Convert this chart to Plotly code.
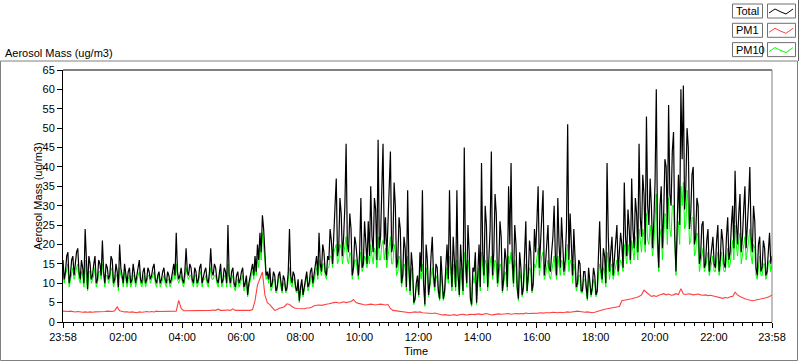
import plotly.graph_objects as go
import pandas as pd

# ---------------- data ----------------
# Total / PM10: values on the 5-minute grid (23:58 -> 23:58) ...
total = [
    16,13,18,12,17,15,19,11,14,24,8.5,15,
    12,17,11,15,21,10,14,12,16,11,13,20,
    12,15,10,14,11,13,12,16,10,14,11,13,
    12,15,10,13,11,14,10,12,11,15,23,11,
    14,10,19,12,14,10,13,11,15,12,14,10,
    19,12,14,10,15,11,13,25,10,14,9,13,
    11,14,10,7,12,15,17,20,23,27.5,19,13,
    14,10,12,9,13,8,11,9,24,10,12,8,
    5.5,11,9,13,10,14,12,17,23,13,18,12,
    16,21,25,37,19,28,22,46,18,24,14,20,
    12,32,15,20,26,35,18,29,47,22,46,27,
    25,44,20,30,16,24,12,19,34,8,14,6,
    12,18,34,4.5,16,10,22,9,14,6,12,8,
    20,34,9,16,34,7,14,45,10,18,4.5,13,
    5,20,41,12,25,15,44,18,28,14,22,11,
    16,35,41,10,20,6,14,9,26,12,18,10,
    18,35,20,34,15,25,13,22,17,32,14,21,
    16,51,28,12,18,10,15,8,13,6,11,9,
    12,8,26,11,17,41,13,22,16,25,18,20,
    36,17,24,37,19,28,46,22,33,53,25,30,
    26,60,14,35,28,40,56,30,49,13,38,60,
    61,35,45,28,40,22,30,17,26,15,24,16,
    22,14,25,16,21,14,27,18,30,39,20,33,
    22,35,24,40,18,26,12,22,14,19,13,23,17,
]
# ... and the samples in between (2.5 minutes later)
total_mid = [
    11,17,10,16,12,18,13,16,10,13,17,11,
    15,10,16,12,13,15,11,17,10,15,9,14,
    10,12,13,10,15,10,14,11,13,10,14,11,
    14,11,12,10,13,11,13,10,13,12,13,12,
    11,13,13,15,11,14,10,14,10,13,11,13,
    13,15,11,13,10,14,10,12,13,10,12,10,
    13,9,12,10,14,12,13,16,18,24,12,11,
    9,13,8,12,10,12,8,13,12,13,9,11,
    9,7,12,9,13,10,15,12,15,20,13,17,
    24,15,30,17,32,17,30,20,28,12,22,15,
    18,14,26,15,17,22,32,16,19,36,20,16,
    31,18,36,14,27,10,22,9,15,18,5,10,
    7,13,10,20,7,17,12,15,8,17,6,13,
    11,16,22,9,12,20,8,16,25,6,14,18,
    12,9,18,30,9,24,12,33,10,26,8,19,
    9,20,16,25,9,18,7,17,8,21,8,24,
    26,14,27,12,20,14,18,30,12,20,27,13,
    24,16,20,24,9,16,8,13,9,14,7,14,
    7,15,14,19,10,22,18,12,21,13,23,14,
    22,29,16,24,32,18,27,38,20,30,37,19,
    36,22,30,19,42,24,33,44,22,28,25,42,
    29,50,24,38,20,32,15,25,14,21,13,20,
    15,21,13,24,15,22,16,25,19,26,28,18,
    29,19,31,22,30,14,20,13,21,12,20,15,
]

pm10 = [
    14,12,15,11,14,12,15,10,12,16,8,13,
    11,14,10,13,15,9,12,11,13,10,12,14,
    11,13,9,12,10,12,11,13,9,12,10,12,
    11,13,9,12,10,12,9,11,10,13,15,10,
    12,9,14,11,12,9,12,10,13,11,12,9,
    14,11,12,9,13,10,12,15,9,12,8,11,
    10,12,9,6.5,11,13,15,17,19,23,16,12,
    12,9,11,8,12,7.5,10,8,14,9,11,7.5,
    5,10,8,12,9,12,11,14,16,12,15,11,
    14,17,18,20,16,19,17,22,15,17,13,16,
    11,18,14,16,17,20,15,18,22,16,21,19,
    17,22,15,18,13,16,11,14,17,7,12,5.5,
    10,13,15,4,12,9,14,8,11,5.5,10,7,
    14,17,8,12,16,6.5,11,18,9,13,4,10,
    4.5,14,18,10,15,12,17,13,15,11,14,10,
    12,17,18,9,14,5.5,11,8,15,10,13,9,
    14,19,15,18,12,16,11,15,13,17,12,15,
    13,20,16,10,13,9,12,7.5,11,5.5,10,8,
    10,7.5,15,10,13,18,11,15,13,16,14,15,
    20,15,18,21,16,19,24,18,22,28,20,21,
    20,33,13,24,21,27,32,22,30,12,26,35,
    36,25,30,21,27,18,22,15,19,14,18,14,
    17,13,18,14,16,13,19,15,21,25,17,23,
    17,22,18,24,15,19,11,17,12,15,12,16,15,
]
pm10_mid = [
    10,14,9,13,11,14,11,13,9,11,13,10,
    12,9,13,11,12,12,10,14,9,12,8,12,
    9,11,11,9,12,9,12,10,11,9,12,10,
    12,10,11,9,11,10,11,9,11,11,11,11,
    10,11,12,12,10,12,9,12,9,11,10,11,
    11,12,10,11,9,12,9,11,11,9,10,9,
    11,8,11,9,12,11,12,14,16,20,11,10,
    8,11,7.5,11,9,10,7.5,11,10,11,8,9,
    8,6.5,10,8,11,9,12,11,13,15,12,14,
    17,14,19,15,20,15,19,16,18,11,16,13,
    15,13,17,14,15,17,19,14,16,20,16,14,
    19,15,20,12,17,9,15,8,12,14,4.5,9,
    6.5,11,9,14,6.5,13,10,12,7,13,5.5,11,
    10,13,15,8,11,14,7,13,16,5.5,12,13,
    10,8,14,16,8,15,11,16,9,15,7.5,13,
    8,15,13,16,8,13,6.5,13,7.5,14,7.5,15,
    17,12,17,11,14,12,13,17,11,14,16,12,
    17,13,15,15,8,12,7.5,11,8,11,6.5,11,
    6.5,12,12,14,9,15,14,11,15,12,16,13,
    18,20,15,18,22,16,20,24,18,21,25,17,
    26,18,22,16,28,20,24,30,19,21,20,30,
    24,34,20,27,17,23,13,18,13,16,12,16,
    13,16,12,18,13,16,14,18,16,20,21,15,
    20,16,21,17,20,12,15,12,15,11,15,13,
]

# PM1 on the 5-minute grid
pm1 = [
    2.8,2.7,2.7,2.8,2.6,2.6,2.7,2.5,2.5,2.6,2.5,2.6,
    2.5,2.6,2.6,2.7,2.6,2.7,2.8,2.7,2.7,2.9,3.9,2.9,
    2.7,2.6,2.6,2.5,2.6,2.5,2.4,2.6,2.5,2.6,2.7,2.6,
    2.7,2.6,2.8,2.7,2.7,2.8,2.7,2.7,2.8,2.7,2.8,5.6,
    3.5,2.9,2.9,2.9,3.0,2.9,2.9,3.0,2.9,2.9,3.0,3.0,
    3.0,3.1,3.0,3.3,3.0,3.0,3.1,3.1,3.0,3.4,3.0,3.0,
    3.0,2.9,3.0,2.9,3.0,3.2,5.5,9.5,11.5,12.9,7.0,5.0,
    4.5,3.8,3.0,3.2,3.6,3.7,4.0,4.7,4.5,4.0,3.6,3.5,
    3.5,3.5,3.4,3.6,3.6,3.8,4.2,4.3,4.4,4.3,4.5,4.6,
    4.7,4.9,5.0,5.1,4.9,5.0,5.2,5.0,5.1,5.3,5.8,5.0,
    4.8,4.6,4.5,4.4,4.5,4.6,4.5,4.4,4.5,4.6,4.5,4.4,
    4.5,3.5,3.0,2.9,2.8,2.7,2.6,2.5,2.4,2.4,2.5,2.6,
    2.5,2.6,2.4,2.3,2.4,2.3,2.2,2.3,2.1,2.0,1.8,1.9,
    1.8,1.7,1.8,1.9,1.7,1.8,2.0,1.9,1.8,1.9,2.0,1.9,
    2.0,2.1,1.9,2.0,2.2,2.0,1.8,1.9,2.0,2.1,2.0,2.1,
    2.1,2.2,2.0,2.1,2.2,2.1,2.2,2.1,2.3,2.2,2.2,2.3,
    2.2,2.3,2.4,2.3,2.4,2.3,2.4,2.5,2.4,2.4,2.5,2.4,
    2.5,2.6,2.5,2.6,2.7,2.8,2.7,2.6,2.5,2.6,2.5,2.4,
    2.5,2.7,3.0,3.2,3.3,3.4,3.5,3.7,3.8,3.9,4.0,5.5,
    5.6,5.8,5.9,6.0,6.2,6.3,6.6,7.0,8.2,7.6,7.0,6.6,
    6.8,6.6,6.9,7.1,7.3,7.0,7.2,6.9,7.0,7.3,7.1,8.6,
    7.2,7.1,7.3,7.2,7.0,7.1,7.2,7.0,6.9,7.0,6.8,6.9,
    6.7,6.5,6.4,6.2,6.1,6.3,6.2,6.5,6.6,7.7,7.0,6.6,
    6.2,6.0,5.8,5.6,5.5,5.6,5.7,5.8,6.0,6.1,6.3,6.6,7.0,
]

tick_labels = ["23:58", "02:00", "04:00", "06:00", "08:00", "10:00", "12:00",
               "14:00", "16:00", "18:00", "20:00", "22:00", "23:58"]

start = pd.Timestamp("2024-01-01 23:58")
end = pd.Timestamp("2024-01-02 23:58")


def interleave(a, b):
    out = []
    for v, m in zip(a[:-1], b):
        out.extend([v, m])
    out.append(a[-1])
    return out


total_all = interleave(total, total_mid)
pm10_all = interleave(pm10, pm10_mid)
times_fine = pd.date_range(start, periods=len(total_all), freq="150s")
times_5 = pd.date_range(start, periods=len(pm1), freq="5min")

tick_vals = [start] + [pd.Timestamp("2024-01-02 %02d:00" % h) for h in range(2, 24, 2)] + [end]
minor_vals = []
for a, b in zip(tick_vals[:-1], tick_vals[1:]):
    for k in range(6):
        minor_vals.append(a + (b - a) * k / 6)
minor_vals.append(end)

# ---------------- geometry helpers (pixels -> paper) ----------------
L, R, T, B = 63, 772, 70, 322
def px(x):
    return (x - L) / (R - L)
def py(y):
    return (B - y) / (B - T)

FONT = "Liberation Sans, Arial, sans-serif"

fig = go.Figure()
fig.add_trace(go.Scatter(x=times_fine, y=pm10_all, mode="lines", name="PM10",
                         line=dict(color="#00ff00", width=1)))
fig.add_trace(go.Scatter(x=times_fine, y=total_all, mode="lines", name="Total",
                         line=dict(color="#000000", width=1.2)))
fig.add_trace(go.Scatter(x=times_5, y=pm1, mode="lines", name="PM1",
                         line=dict(color="#ff4040", width=1.1)))

fig.update_layout(
    width=800, height=361, autosize=False,
    margin=dict(l=L, r=800 - R, t=T, b=361 - B, pad=0, autoexpand=False),
    paper_bgcolor="white", plot_bgcolor="white", showlegend=False,
    font=dict(family=FONT, size=11, color="black"),
)
fig.update_xaxes(
    type="date", range=[start, end], tickmode="array", tickvals=tick_vals,
    ticktext=tick_labels, ticks="outside", ticklen=5, tickcolor="black",
    showline=True, linecolor="black", linewidth=1, showgrid=False, zeroline=False,
    automargin=False,
    tickfont=dict(family=FONT, size=11, color="black"),
    minor=dict(tickmode="array", tickvals=minor_vals, ticks="outside", ticklen=3,
               tickcolor="black", showgrid=False),
)
fig.update_yaxes(
    range=[0, 65], tick0=0, dtick=5, ticks="outside", ticklen=5, tickcolor="black",
    showline=True, linecolor="black", linewidth=1, showgrid=False, zeroline=False,
    automargin=False,
    tickfont=dict(family=FONT, size=11, color="black"),
)

shapes = []
shapes.append(dict(type="line", xref="paper", yref="paper", x0=0, x1=1, y0=1, y1=1,
                   line=dict(color="black", width=1)))
shapes.append(dict(type="line", xref="paper", yref="paper", x0=1, x1=1, y0=0, y1=1,
                   line=dict(color="#808080", width=1)))
shapes.append(dict(type="rect", xref="paper", yref="paper",
                   x0=px(0.5), x1=px(797.5), y0=py(360.5), y1=py(61),
                   line=dict(color="#808080", width=1)))
shapes.append(dict(type="line", xref="paper", yref="paper",
                   x0=px(798.5), x1=px(798.5), y0=py(0), y1=py(61),
                   line=dict(color="#606060", width=1)))

legend_items = [("Total", "#000000"), ("PM1", "#ff4040"), ("PM10", "#00ff00")]
annotations = []
for i, (name, col) in enumerate(legend_items):
    y0 = 4 + i * 19.3
    y1 = y0 + 14
    shapes.append(dict(type="rect", xref="paper", yref="paper",
                       x0=px(732.5), x1=px(762.5), y0=py(y1), y1=py(y0),
                       line=dict(color="#707070", width=1)))
    shapes.append(dict(type="rect", xref="paper", yref="paper",
                       x0=px(767.5), x1=px(795.5), y0=py(y1), y1=py(y0),
                       line=dict(color="#707070", width=1)))
    pts = [(769, y0 + 9), (775, y0 + 5), (781, y0 + 8), (786, y0 + 10), (793, y0 + 5)]
    path = "M " + " L ".join("%f,%f" % (px(a), py(b)) for a, b in pts)
    shapes.append(dict(type="path", xref="paper", yref="paper", path=path,
                       line=dict(color=col, width=1)))
    annotations.append(dict(text=name, xref="paper", yref="paper", x=px(733.5),
                            y=py((y0 + y1) / 2), xanchor="left", yanchor="middle",
                            showarrow=False, font=dict(family=FONT, size=11, color="black")))

annotations.append(dict(text="Aerosol Mass (ug/m3)", xref="paper", yref="paper",
                        x=px(3), y=py(53), xanchor="left", yanchor="middle",
                        showarrow=False, font=dict(family=FONT, size=11, color="black")))
annotations.append(dict(text="Aerosol Mass (ug/m3)", xref="paper", yref="paper",
                        x=px(38), y=py(196), xanchor="center", yanchor="middle",
                        textangle=-90, showarrow=False,
                        font=dict(family=FONT, size=11, color="black")))
annotations.append(dict(text="Time", xref="paper", yref="paper",
                        x=px(416), y=py(351), xanchor="center", yanchor="middle",
                        showarrow=False, font=dict(family=FONT, size=11, color="black")))

fig.update_layout(shapes=shapes, annotations=annotations)
fig.write_html(
    "out.html",
    config={"displayModeBar": False},
    post_script="document.body.style.margin='0';document.body.style.padding='0';"
                "document.documentElement.style.overflow='hidden';",
)
